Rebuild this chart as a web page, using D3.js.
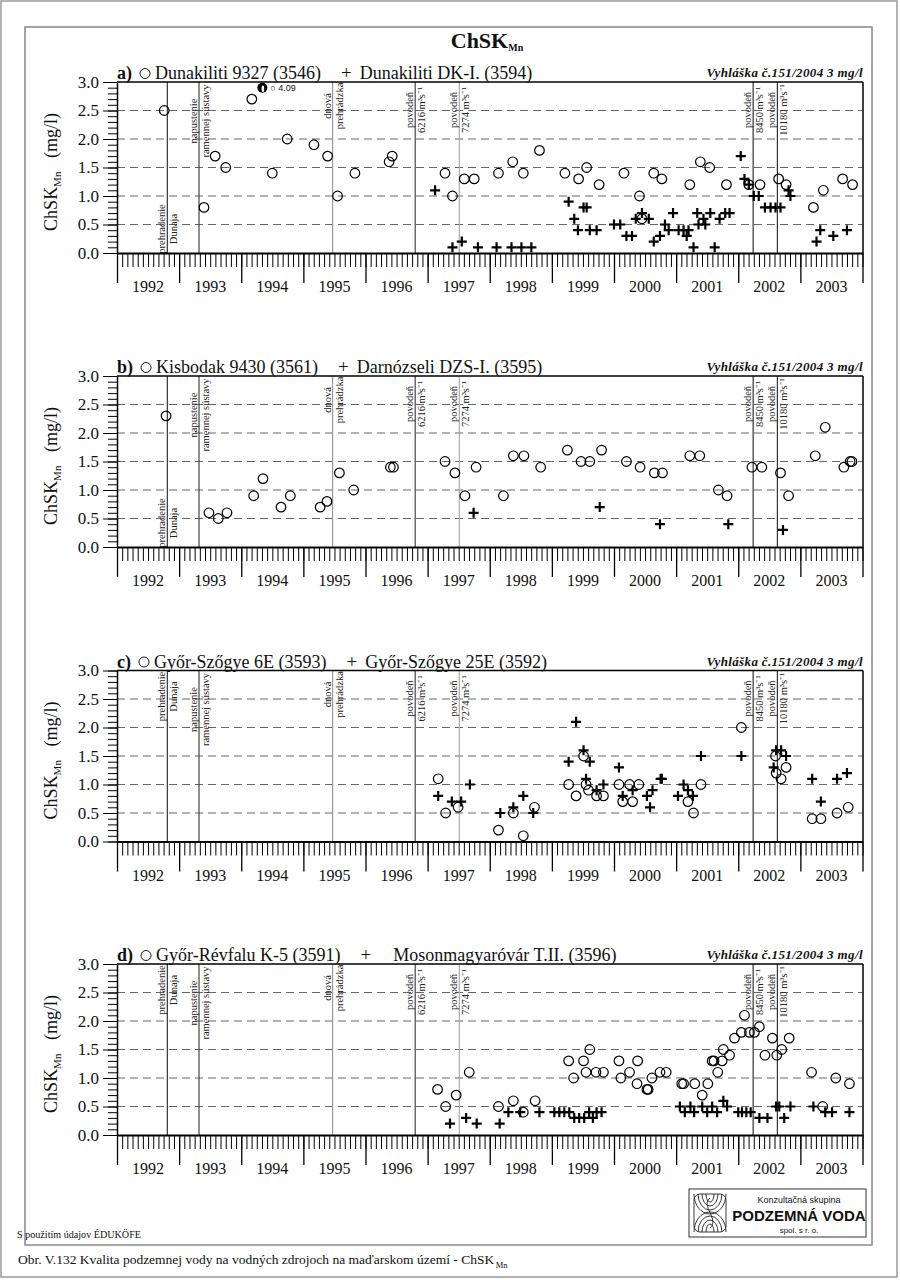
<!DOCTYPE html>
<html><head><meta charset="utf-8">
<script src="https://cdn.jsdelivr.net/npm/d3@7"></script>
<style>body{margin:0;background:#fff} svg{display:block} text{font-family:"Liberation Serif","Times New Roman",serif;fill:#111}</style>
</head><body>
<svg id="c" width="900" height="1280"></svg>
<script>
// ---------- DATA ----------
const years = d3.range(1992, 2004);
const yTicks = [0, 0.5, 1, 1.5, 2, 2.5, 3];
const eventDates = [1992.81, 1993.32, 1995.47, 1996.80, 1997.51, 2002.24, 2002.63];
const eventLine1 = ["prehradenie", "napustenie", "dnová", "povodeň", "povodeň", "povodeň", "povodeň"];
const eventLine2 = ["Dunaja", "ramennej  sústavy", "prehrádzka", "6216 m³s⁻¹", "7274 m³s⁻¹", "8450 m³s⁻¹", "10180 m³s⁻¹"];

const aO = [[1992.76,2.5],[1993.40,0.8],[1993.58,1.7],[1993.75,1.5],[1994.17,2.7],[1994.50,1.4],[1994.74,2.0],[1995.17,1.9],[1995.39,1.7],[1995.55,1.0],[1995.83,1.4],[1996.38,1.6],[1996.43,1.7],[1997.28,1.4],[1997.40,1.0],[1997.59,1.3],[1997.75,1.3],[1998.14,1.4],[1998.37,1.6],[1998.54,1.4],[1998.80,1.8],[1999.21,1.4],[1999.43,1.3],[1999.56,1.5],[1999.76,1.2],[2000.16,1.4],[2000.41,1.0],[2000.45,0.6],[2000.64,1.4],[2000.77,1.3],[2001.22,1.2],[2001.39,1.6],[2001.54,1.5],[2001.81,1.2],[2002.17,1.2],[2002.35,1.2],[2002.65,1.3],[2002.77,1.2],[2003.21,0.8],[2003.37,1.1],[2003.68,1.3],[2003.84,1.2]];
const aOver = [[1994.34, 4.09]];
const aP = [[1997.12,1.1],[1997.40,0.1],[1997.55,0.2],[1997.81,0.1],[1998.11,0.1],[1998.35,0.1],[1998.51,0.1],[1998.67,0.1],[1999.27,0.9],[1999.36,0.6],[1999.42,0.4],[1999.51,0.8],[1999.56,0.8],[1999.61,0.4],[1999.72,0.4],[2000.00,0.5],[2000.10,0.5],[2000.20,0.3],[2000.29,0.3],[2000.35,0.6],[2000.45,0.7],[2000.56,0.6],[2000.64,0.2],[2000.74,0.3],[2000.82,0.5],[2000.88,0.4],[2000.95,0.7],[2001.04,0.4],[2001.12,0.4],[2001.17,0.3],[2001.20,0.4],[2001.28,0.1],[2001.34,0.7],[2001.36,0.5],[2001.44,0.6],[2001.47,0.5],[2001.55,0.7],[2001.62,0.1],[2001.70,0.6],[2001.79,0.7],[2001.86,0.7],[2002.04,1.7],[2002.10,1.3],[2002.17,1.2],[2002.25,1.0],[2002.33,1.0],[2002.43,0.8],[2002.52,0.8],[2002.60,0.8],[2002.68,0.8],[2002.81,1.1],[2002.84,1.0],[2003.26,0.2],[2003.32,0.4],[2003.53,0.3],[2003.75,0.4]];

const bO = [[1992.79,2.3],[1993.48,0.6],[1993.63,0.5],[1993.77,0.6],[1994.20,0.9],[1994.35,1.2],[1994.64,0.7],[1994.79,0.9],[1995.27,0.7],[1995.38,0.8],[1995.58,1.3],[1995.81,1.0],[1996.40,1.4],[1996.45,1.4],[1997.28,1.5],[1997.44,1.3],[1997.60,0.9],[1997.78,1.4],[1998.22,0.9],[1998.38,1.6],[1998.55,1.6],[1998.82,1.4],[1999.25,1.7],[1999.47,1.5],[1999.61,1.5],[1999.80,1.7],[2000.20,1.5],[2000.42,1.4],[2000.65,1.3],[2000.78,1.3],[2001.22,1.6],[2001.38,1.6],[2001.68,1.0],[2001.82,0.9],[2002.22,1.4],[2002.38,1.4],[2002.68,1.3],[2002.81,0.9],[2003.24,1.6],[2003.40,2.1],[2003.70,1.4],[2003.80,1.5],[2003.83,1.5]];
const bP = [[1997.74,0.6],[1999.77,0.7],[2000.74,0.4],[2001.84,0.4],[2002.72,0.3]];

const cO = [[1997.17,1.1],[1997.29,0.5],[1997.49,0.6],[1998.14,0.2],[1998.38,0.5],[1998.54,0.1],[1998.72,0.6],[1999.27,1.0],[1999.39,0.8],[1999.51,1.5],[1999.55,1.0],[1999.59,0.9],[1999.72,0.8],[1999.83,0.8],[2000.08,1.0],[2000.14,0.7],[2000.25,1.0],[2000.30,0.7],[2000.40,1.0],[2001.19,0.7],[2001.28,0.5],[2001.40,1.0],[2002.05,2.0],[2002.60,1.5],[2002.61,1.2],[2002.69,1.1],[2002.77,1.3],[2003.19,0.4],[2003.33,0.4],[2003.59,0.5],[2003.77,0.6]];
const cP = [[1997.17,0.8],[1997.39,0.7],[1997.54,0.7],[1997.68,1.0],[1998.17,0.5],[1998.38,0.6],[1998.54,0.8],[1998.70,0.5],[1999.27,1.4],[1999.39,2.1],[1999.51,1.6],[1999.55,1.1],[1999.61,1.4],[1999.72,0.9],[1999.83,1.0],[2000.08,1.3],[2000.14,0.8],[2000.30,0.9],[2000.53,0.8],[2000.58,0.6],[2000.62,0.9],[2000.75,1.1],[2000.77,1.1],[2001.03,0.8],[2001.12,1.0],[2001.19,0.9],[2001.27,0.8],[2001.40,1.5],[2002.05,1.5],[2002.57,1.3],[2002.61,1.6],[2002.69,1.6],[2002.77,1.5],[2003.19,1.1],[2003.33,0.7],[2003.59,1.1],[2003.75,1.2]];

const dO = [[1997.16,0.8],[1997.29,0.5],[1997.46,0.7],[1997.67,1.1],[1998.14,0.5],[1998.38,0.6],[1998.54,0.4],[1998.73,0.6],[1999.27,1.3],[1999.35,1.0],[1999.51,1.3],[1999.55,1.1],[1999.61,1.5],[1999.71,1.1],[1999.83,1.1],[2000.08,1.3],[2000.11,1.0],[2000.25,1.1],[2000.37,0.9],[2000.38,1.3],[2000.53,0.8],[2000.55,0.8],[2000.61,1.0],[2000.74,1.1],[2000.84,1.1],[2001.09,0.9],[2001.12,0.9],[2001.30,0.9],[2001.42,0.7],[2001.51,0.9],[2001.58,1.3],[2001.61,1.3],[2001.67,1.1],[2001.74,1.3],[2001.76,1.5],[2001.86,1.4],[2001.94,1.7],[2002.05,1.8],[2002.10,2.1],[2002.18,1.8],[2002.26,1.8],[2002.34,1.9],[2002.43,1.4],[2002.55,1.7],[2002.62,1.4],[2002.70,1.5],[2002.82,1.7],[2003.18,1.1],[2003.36,0.5],[2003.57,1.0],[2003.79,0.9]];
const dP = [[1997.36,0.2],[1997.62,0.3],[1997.79,0.2],[1998.16,0.2],[1998.30,0.4],[1998.49,0.4],[1998.80,0.4],[1999.04,0.4],[1999.12,0.4],[1999.20,0.4],[1999.28,0.4],[1999.36,0.3],[1999.44,0.3],[1999.52,0.3],[1999.60,0.4],[1999.66,0.3],[1999.72,0.4],[1999.80,0.4],[2001.06,0.5],[2001.14,0.4],[2001.23,0.5],[2001.29,0.4],[2001.42,0.5],[2001.50,0.4],[2001.58,0.5],[2001.66,0.4],[2001.76,0.6],[2001.82,0.5],[2002.00,0.4],[2002.06,0.4],[2002.13,0.4],[2002.20,0.4],[2002.34,0.3],[2002.47,0.3],[2002.61,0.5],[2002.66,0.5],[2002.74,0.3],[2002.84,0.5],[2003.21,0.5],[2003.40,0.4],[2003.51,0.4],[2003.79,0.4]];

const panelIds = ["a)", "b)", "c)", "d)"];
const names1 = ["Dunakiliti 9327 (3546)", "Kisbodak 9430 (3561)", "Győr-Szőgye 6E (3593)", "Győr-Révfalu K-5 (3591)"];
const names2 = ["Dunakiliti DK-I. (3594)", "Darnózseli DZS-I. (3595)", "Győr-Szőgye 25E (3592)", "Mosonmagyaróvár T.II. (3596)"];
const seriesO = [aO, bO, cO, dO];
const seriesP = [aP, bP, cP, dP];
const limitText = "Vyhláška č.151/2004 3 mg/l";

// ---------- LAYOUT ----------
const svg = d3.select("#c");
const SANS = '"Liberation Sans","DejaVu Sans",Arial,sans-serif';
const X0 = 117, X1 = 862.5, PH = 171;
const tops = [82, 376, 670.5, 964];
const x = d3.scaleLinear().domain([1992, 2004]).range([X0, X1]);
const evColors = ["#333", "#444", "#999", "#444", "#aaa", "#333", "#333"];

// frames
svg.append("rect").attr("x",1).attr("y",1).attr("width",896).attr("height",1276).attr("fill","none").attr("stroke","#999").attr("stroke-width",1.5);
svg.append("rect").attr("x",25).attr("y",27).attr("width",847).attr("height",1218).attr("fill","none").attr("stroke","#888").attr("stroke-width",1.5);

// main title
const tt = svg.append("text").attr("x",487).attr("y",48).attr("text-anchor","middle").attr("font-weight","bold").attr("font-size",22);
tt.append("tspan").text("ChSK");
tt.append("tspan").attr("font-size",10).attr("dy",3).text("Mn");

function plus(g, px, py, s, w) {
  g.append("path").attr("d",`M${px-s},${py}H${px+s}M${px},${py-s}V${py+s}`).attr("stroke","#000").attr("stroke-width",w).attr("fill","none");
}

tops.forEach((top, pi) => {
  const bottom = top + PH;
  const y = d3.scaleLinear().domain([0, 3]).range([bottom, top]);
  const g = svg.append("g");

  // grid
  g.selectAll("line.grid").data(yTicks.filter(v => v > 0 && v < 3)).join("line")
    .attr("x1", X0).attr("x2", X1).attr("y1", d => y(d)).attr("y2", d => y(d))
    .attr("stroke", "#666").attr("stroke-width", 1).attr("stroke-dasharray", "8,5");

  // event lines & labels
  eventDates.forEach((t, i) => {
    const lx = x(t);
    g.append("line").attr("x1", lx).attr("x2", lx).attr("y1", top).attr("y2", bottom).attr("stroke", evColors[i]).attr("stroke-width", 1.2);
    let cy;
    if (i === 0) cy = pi < 2 ? bottom - 24 : top + 26;
    else if (i === 1) cy = top + 39;
    else if (i === 2) cy = top + 24;
    else cy = top + 28;
    [[eventLine1[i], lx - 2], [eventLine2[i], lx + 10]].forEach(([txt, bx]) => {
      g.append("text").attr("transform", `translate(${bx},${cy}) rotate(-90)`)
        .attr("text-anchor", "middle").attr("font-size", 10.5).style("fill", "#222").text(txt);
    });
  });

  // frame top/right
  g.append("line").attr("x1", X0).attr("x2", X1 + 0.5).attr("y1", top).attr("y2", top).attr("stroke", "#000").attr("stroke-width", 1.5);
  g.append("line").attr("x1", X1 + 0.5).attr("x2", X1 + 0.5).attr("y1", top).attr("y2", bottom).attr("stroke", "#000").attr("stroke-width", 1.5);

  // y axis
  const yMinor = d3.axisLeft(y).tickValues(d3.range(0, 31).map(i => i / 10)).tickSize(9).tickSizeOuter(0).tickFormat("");
  g.append("g").attr("transform", `translate(${X0},0)`).call(yMinor)
    .call(s => s.select(".domain").attr("stroke-width", 1.5));
  const yMajor = d3.axisLeft(y).tickValues(yTicks).tickSize(14).tickSizeOuter(0).tickPadding(4).tickFormat(d3.format(".1f"));
  g.append("g").attr("transform", `translate(${X0},0)`).call(yMajor)
    .call(s => s.select(".domain").remove())
    .call(s => s.selectAll("text").attr("font-size", 17).style("font-family", '"Liberation Serif",serif').style("fill","#111"));

  // x axis
  const xMinor = d3.axisBottom(x).tickValues(d3.range(0, 145).map(i => 1992 + i / 12)).tickSize(14).tickSizeOuter(0).tickFormat("");
  g.append("g").attr("transform", `translate(0,${bottom})`).call(xMinor)
    .call(s => s.select(".domain").attr("stroke-width", 1.8));
  const xMajor = d3.axisBottom(x).tickValues(d3.range(1992, 2005)).tickSize(30).tickSizeOuter(0).tickFormat("");
  g.append("g").attr("transform", `translate(0,${bottom})`).call(xMajor)
    .call(s => s.select(".domain").remove())
    .call(s => s.selectAll("line").attr("stroke-width", 1.3));
  g.selectAll("text.yr").data(years).join("text").attr("class", "yr")
    .attr("x", d => x(d + 0.5)).attr("y", bottom + 39).attr("text-anchor", "middle").attr("font-size", 16).text(d => d);

  // y label
  const yl = g.append("text").attr("transform", `translate(57,${top + 90}) rotate(-90)`).attr("text-anchor", "middle").attr("font-size", 18);
  yl.append("tspan").text("ChSK");
  yl.append("tspan").attr("font-size", 11).attr("dy", 4).text("Mn");
  yl.append("tspan").attr("dy", -4).text("\u00a0\u00a0\u00a0(mg/l)");

  // legend row
  let cur = X0;
  const by = top - 3;
  const idT = g.append("text").attr("x", cur).attr("y", by).attr("font-size", 18).attr("font-weight", "bold").text(panelIds[pi]);
  cur += idT.node().getComputedTextLength() + 8;
  g.append("circle").attr("cx", cur + 5).attr("cy", by - 5.5).attr("r", 5).attr("fill", "none").attr("stroke", "#000").attr("stroke-width", 0.9);
  cur += 15;
  const n1 = g.append("text").attr("x", cur).attr("y", by).attr("font-size", 18).text(names1[pi]);
  cur += n1.node().getComputedTextLength() + 20;
  const pl = g.append("text").attr("x", cur).attr("y", by).attr("font-size", 19).text("+");
  cur += pl.node().getComputedTextLength() + (pi === 3 ? 22 : 8);
  g.append("text").attr("x", cur).attr("y", by).attr("font-size", 18).text(names2[pi]);
  g.append("text").attr("x", X1).attr("y", top - 5).attr("text-anchor", "end").attr("font-size", 13)
    .attr("font-style", "italic").attr("font-weight", "bold").attr("textLength", 156).attr("lengthAdjust", "spacing").text(limitText);

  // markers
  g.selectAll("circle.o").data(seriesO[pi]).join("circle").attr("class", "o")
    .attr("cx", d => x(d[0])).attr("cy", d => y(d[1])).attr("r", 4.8)
    .attr("fill", "none").attr("stroke", "#000").attr("stroke-width", 1.2);
  seriesP[pi].forEach(d => plus(g, x(d[0]), y(d[1]), 5, 2.2));

  if (pi === 0) {
    aOver.forEach(d => {
      const cx = x(d[0]), cy = y(Math.min(d[1], 2.9));
      g.append("circle").attr("cx", cx).attr("cy", cy).attr("r", 5).attr("fill", "#000");
      g.append("ellipse").attr("cx", cx + 0.5).attr("cy", cy + 1).attr("rx", 1.3).attr("ry", 3.2).attr("fill", "#fff");
      g.append("text").attr("x", cx + 8).attr("y", cy + 3.5).attr("font-size", 9).style("font-family", SANS).text("○ " + d[1].toFixed(2));
    });
  }
});

// footer
svg.append("text").attr("x", 17).attr("y", 1238).attr("font-size", 9.5).attr("textLength", 124).attr("lengthAdjust","spacingAndGlyphs").text("S použitím údajov ÉDUKÖFE");
const lg = svg.append("g");
lg.append("rect").attr("x", 689).attr("y", 1189).attr("width", 177).attr("height", 48).attr("fill", "#fff").attr("stroke", "#333").attr("stroke-width", 1);
// logo mark
const lm = lg.append("g").attr("fill", "none").attr("stroke", "#222").attr("stroke-width", 0.9);
lm.append("rect").attr("x", 694).attr("y", 1194).attr("width", 32).attr("height", 38).attr("rx", 6);
[4, 8, 12, 16].forEach(r => {
  lm.append("path").attr("d", `M${710 - r},1232 A${r},${r + 4} 0 0 1 ${710 + r},1232`);
  lm.append("path").attr("d", `M${710 - r},1194 A${r},${r + 4} 0 0 0 ${710 + r},1194`);
});
lm.append("path").attr("d", "M710,1198 C700,1205 720,1220 710,1228");
lg.append("text").attr("x", 799).attr("y", 1203).attr("text-anchor", "middle").attr("font-size", 9).style("font-family", SANS).text("Konzultačná skupina");
lg.append("text").attr("x", 799).attr("y", 1221).attr("text-anchor", "middle").attr("font-size", 15).attr("font-weight", "bold").style("font-family", SANS).text("PODZEMNÁ VODA");
lg.append("text").attr("x", 799).attr("y", 1233).attr("text-anchor", "middle").attr("font-size", 8).style("font-family", SANS).text("spol. s r. o.");

const capT = svg.append("text").attr("x", 18).attr("y", 1264).attr("font-size", 13.5)
  .text("Obr. V.132 Kvalita podzemnej vody na vodných zdrojoch na maďarskom území - ChSK");
const capW = capT.node().getComputedTextLength();
svg.append("text").attr("x", 18 + capW + 1.5).attr("y", 1268).attr("font-size", 8.5).text("Mn");
</script></body></html>
